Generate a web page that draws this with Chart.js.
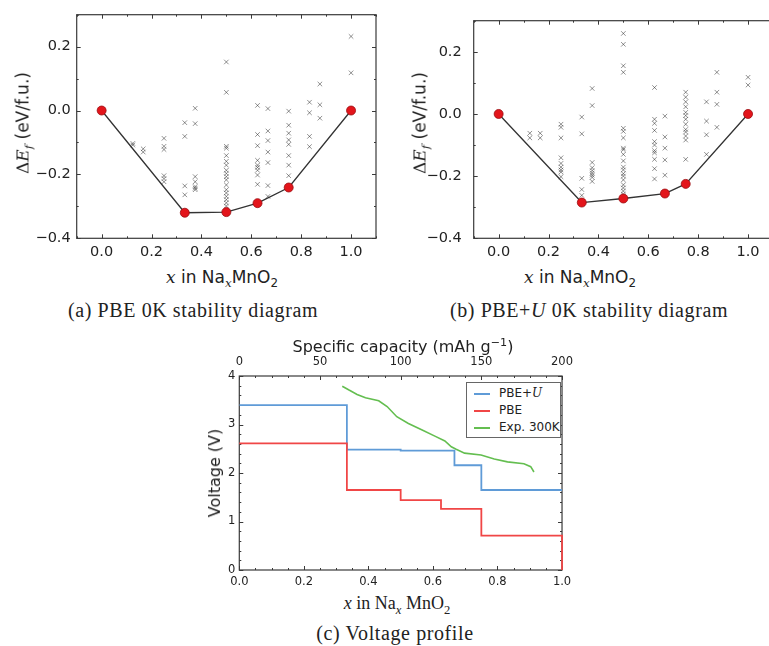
<!DOCTYPE html>
<html>
<head>
<meta charset="utf-8">
<script src="https://cdn.jsdelivr.net/npm/chart.js@4.4.1/dist/chart.umd.min.js"></script>
<style>
html, body { margin: 0; padding: 0; width: 769px; height: 646px; overflow: hidden; background: #fff; }
.box { position: absolute; }
.lbl { position: absolute; font-family: "DejaVu Sans", sans-serif; color: #222; white-space: nowrap; transform: translate(-50%, -50%); line-height: 1; }
.rot { transform: translate(-50%, -50%) rotate(-90deg); }
.m { font-family: "DejaVu Serif", serif; font-style: italic; }
.serif { font-family: "Liberation Serif", serif; }
sub, sup { font-size: 70%; line-height: 0; }
.cap { position: absolute; font-family: "Liberation Serif", serif; font-size: 20px; letter-spacing: 0.6px; color: #222; white-space: nowrap; transform: translate(-50%, -50%); }
.legend { position: absolute; left: 466px; top: 382px; width: 93px; height: 54px; border: 1px solid #666; background: #fff; font-family: "DejaVu Sans", sans-serif; font-size: 12px; color: #222; }
.legend div { position: absolute; left: 7px; white-space: nowrap; }
.legend i.ln { display: inline-block; width: 16px; height: 2px; vertical-align: middle; margin-right: 9px; }
</style>
</head>
<body>
<div class="box" style="left:0px;top:0px"><canvas id="pbe" width="390" height="262"></canvas></div>
<div class="box" style="left:396.6px;top:0px"><canvas id="pbeu" width="390" height="262"></canvas></div>
<div class="box" style="left:180px;top:340px"><canvas id="volt" width="400" height="250"></canvas></div>

<div class="lbl rot" style="left:23px;top:123px;font-size:17px"><span class="m" style="font-style:normal">&Delta;</span><span class="m">E<sub>f</sub></span> (eV/f.u.)</div>
<div class="lbl" style="left:222px;top:277px;font-size:17px"><span class="m">x</span> in Na<sub class="m">x</sub>MnO<sub>2</sub></div>
<div class="cap" style="left:193px;top:310px">(a) PBE 0K stability diagram</div>

<div class="lbl rot" style="left:420px;top:123px;font-size:17px"><span class="m" style="font-style:normal">&Delta;</span><span class="m">E<sub>f</sub></span> (eV/f.u.)</div>
<div class="lbl" style="left:580px;top:277px;font-size:17px"><span class="m">x</span> in Na<sub class="m">x</sub>MnO<sub>2</sub></div>
<div class="cap" style="left:589px;top:310px">(b) PBE+<i>U</i> 0K stability diagram</div>

<div class="lbl" style="left:403px;top:347px;font-size:16px">Specific capacity (mAh g<sup>&minus;1</sup>)</div>
<div class="lbl rot" style="left:215px;top:473px;font-size:16px">Voltage (V)</div>
<div class="lbl serif" style="left:397px;top:603px;font-size:18px"><i>x</i> in Na<sub><i>x</i></sub> MnO<sub>2</sub></div>
<div class="cap" style="left:395px;top:633px">(c) Voltage profile</div>

<div class="legend">
  <div style="top:3px"><i class="ln" style="background:rgb(95,155,215)"></i>PBE+<span class="m">U</span></div>
  <div style="top:20px"><i class="ln" style="background:rgb(240,70,70)"></i>PBE</div>
  <div style="top:37px"><i class="ln" style="background:rgb(100,190,80)"></i>Exp. 300K</div>
</div>

<script>
// compositions x in NaxMnO2 where candidate structures were computed
const candX = [0.125, 1/6, 0.25, 1/3, 0.375, 0.5, 0.625, 2/3, 0.75, 5/6, 0.875, 1.0];

// PBE formation energies (eV/f.u.), one list per composition above
const pbeCand = [
  [-0.103, -0.108],
  [-0.120, -0.130],
  [-0.087, -0.112, -0.122, -0.204, -0.213, -0.223],
  [-0.038, -0.081, -0.236, -0.264],
  [0.007, -0.041, -0.207, -0.223, -0.238, -0.243, -0.248],
  [0.152, 0.057, -0.112, -0.118, -0.141, -0.159, -0.171, -0.187, -0.197, -0.207, -0.217, -0.233, -0.248, -0.258, -0.269, -0.279, -0.289, -0.299],
  [0.016, -0.075, -0.110, -0.156, -0.171, -0.178, -0.187, -0.202, -0.231],
  [0.006, -0.064, -0.094, -0.130, -0.163, -0.235, -0.269],
  [-0.002, -0.046, -0.071, -0.092, -0.106, -0.141, -0.171, -0.204],
  [0.026, -0.007, -0.081, -0.113],
  [0.083, 0.018, -0.024],
  [0.232, 0.118]
];
const pbeHullX = [0, 1/3, 0.5, 0.625, 0.75, 1];
const pbeHull = [0, -0.320, -0.318, -0.290, -0.241, 0];

// PBE+U formation energies (eV/f.u.)
const pbeuCand = [
  [-0.062, -0.077],
  [-0.062, -0.077],
  [-0.033, -0.043, -0.077, -0.141, -0.159, -0.171, -0.180, -0.187, -0.202],
  [-0.010, -0.064, -0.207, -0.243, -0.262],
  [0.082, 0.027, -0.156, -0.173, -0.182, -0.190, -0.197, -0.204, -0.217],
  [0.259, 0.224, 0.155, 0.134, -0.046, -0.056, -0.077, -0.110, -0.115, -0.130, -0.151, -0.171, -0.180, -0.192, -0.200, -0.212, -0.228, -0.238, -0.248, -0.258],
  [0.085, -0.017, -0.030, -0.053, -0.089, -0.100, -0.118, -0.125, -0.146, -0.176, -0.209],
  [-0.007, -0.074, -0.110, -0.148, -0.197],
  [0.070, 0.054, 0.039, 0.023, 0.005, -0.005, -0.017, -0.033, -0.050, -0.058, -0.071, -0.084, -0.146],
  [0.039, -0.023, -0.067, -0.130],
  [0.134, 0.070, 0.031, -0.043],
  [0.118, 0.093]
];
const pbeuHullX = [0, 1/3, 0.5, 2/3, 0.75, 1];
const pbeuHull = [0, -0.285, -0.272, -0.256, -0.225, 0];

// voltage profile, each value holds until the next x
const pbeuVoltX = [0, 1/3, 0.5, 2/3, 0.75, 1];
const pbeuVolt = [3.40, 2.48, 2.46, 2.16, 1.65, 1.65];
const pbeVoltX = [0, 1/3, 0.5, 0.625, 0.75, 1, 1];
const pbeVolt = [2.61, 1.65, 1.44, 1.26, 0.71, 0.71, 0];
const expX = [0.319, 0.340, 0.365, 0.391, 0.432, 0.458, 0.488, 0.524, 0.565, 0.606, 0.637, 0.657, 0.672, 0.698, 0.749, 0.790, 0.831, 0.882, 0.903, 0.913];
const expV = [3.79, 3.71, 3.62, 3.55, 3.49, 3.37, 3.16, 3.02, 2.89, 2.76, 2.66, 2.54, 2.49, 2.41, 2.37, 2.29, 2.23, 2.19, 2.13, 2.02];

// tick labels
const stabXTicks = [0, 0.2, 0.4, 0.6, 0.8, 1.0];
const stabYTicks = [-0.4, -0.2, 0, 0.2];
const voltXTicks = [0, 0.2, 0.4, 0.6, 0.8, 1.0];
const voltYTicks = [0, 1, 2, 3, 4];
const capTicks = [0, 50, 100, 150, 200];

Chart.defaults.font.family = "'DejaVu Sans', sans-serif";
Chart.defaults.color = '#222';
Chart.defaults.animation = false;

const range = (a, b, d) => {
    const out = [];
    for (let v = a; v <= b + 1e-9; v += d) out.push(+v.toFixed(4));
    return out;
};
const fmt = (v) => v.toFixed(1).replace('-', '\u2212');

// box frame and inward ticks on all four sides
const frameTicks = {
    id: 'frameTicks',
    beforeDatasetsDraw(chart, args, o) {
        const {ctx, chartArea: a, scales} = chart;
        const top = scales[o.top || 'x'];
        ctx.save();
        ctx.strokeStyle = '#3a3a3a';
        ctx.lineWidth = 1;
        ctx.beginPath();
        const tx = (scale, vals, len, y0, dir) => vals.forEach(v => {
            const p = Math.round(scale.getPixelForValue(v)) + 0.5;
            ctx.moveTo(p, y0);
            ctx.lineTo(p, y0 + dir * len);
        });
        const ty = (vals, len) => vals.forEach(v => {
            const p = Math.round(scales.y.getPixelForValue(v)) + 0.5;
            ctx.moveTo(a.left, p);
            ctx.lineTo(a.left + len, p);
            ctx.moveTo(a.right, p);
            ctx.lineTo(a.right - len, p);
        });
        tx(scales.x, o.xMajor, 4, a.bottom, -1);
        tx(scales.x, o.xMinor, 2, a.bottom, -1);
        tx(top, o.topMajor || o.xMajor, 4, a.top, 1);
        tx(top, o.topMinor || o.xMinor, 2, a.top, 1);
        ty(o.yMajor, 4);
        ty(o.yMinor, 2);
        ctx.stroke();
        ctx.lineWidth = 1.2;
        ctx.strokeRect(a.left, a.top, a.width, a.height);
        ctx.restore();
    }
};

const makeStability = (id, cand, hullX, hull, yPad) => {
    const pts = [];
    candX.forEach((x, i) => cand[i].forEach(y => pts.push({x: x, y: y})));
    return new Chart(document.getElementById(id), {
        type: 'scatter',
        data: {
            datasets: [{
                data: hullX.map((x, i) => ({x: x, y: hull[i]})),
                showLine: true,
                borderColor: '#333',
                borderWidth: 1.3,
                pointRadius: 4.5,
                pointBackgroundColor: '#e3151b',
                pointBorderColor: '#9a0d10',
                pointBorderWidth: 0.8
            }, {
                data: pts,
                pointStyle: 'crossRot',
                pointRadius: 3.2,
                borderColor: 'rgba(30,30,30,0.55)',
                pointBorderWidth: 0.9
            }]
        },
        options: {
            responsive: false,
            layout: {padding: {top: 10.8, right: 14, left: 0, bottom: 0}},
            plugins: {
                legend: {display: false},
                tooltip: {enabled: false},
                frameTicks: {
                    xMajor: stabXTicks, xMinor: range(-0.1, 1.1, 0.1),
                    yMajor: stabYTicks, yMinor: range(-0.3, 0.3, 0.2)
                }
            },
            scales: {
                x: {
                    type: 'linear', min: -0.1, max: 1.1,
                    grid: {display: false, drawTicks: false}, border: {display: false},
                    ticks: {padding: 5, font: {size: 14.5}, maxRotation: 0, autoSkip: false, callback: (v) => v.toFixed(1)},
                    afterBuildTicks: (s) => { s.ticks = stabXTicks.map(v => ({value: v})); },
                    afterFit: (s) => { s.height = 23.7; }
                },
                y: {
                    min: -0.4, max: 0.3,
                    grid: {display: false, drawTicks: false}, border: {display: false},
                    ticks: {padding: yPad, font: {size: 14.5}, autoSkip: false, callback: fmt},
                    afterBuildTicks: (s) => { s.ticks = stabYTicks.map(v => ({value: v})); },
                    afterFit: (s) => { s.width = 76.7; }
                }
            }
        },
        plugins: [frameTicks]
    });
};

makeStability('pbe', pbeCand, pbeHullX, pbeHull, 6);
makeStability('pbeu', pbeuCand, pbeuHullX, pbeuHull, 12);

const toPts = (xs, ys) => xs.map((x, i) => ({x: x, y: ys[i]}));

new Chart(document.getElementById('volt'), {
    type: 'scatter',
    data: {
        datasets: [{
            label: 'PBE',
            data: toPts(pbeVoltX, pbeVolt),
            showLine: true, stepped: 'before', pointRadius: 0, clip: 3,
            borderColor: 'rgb(240,70,70)', borderWidth: 1.8
        }, {
            label: 'PBE+U',
            data: toPts(pbeuVoltX, pbeuVolt),
            showLine: true, stepped: 'before', pointRadius: 0,
            borderColor: 'rgb(95,155,215)', borderWidth: 1.8
        }, {
            label: 'Exp. 300K',
            data: toPts(expX, expV),
            showLine: true, pointRadius: 0, tension: 0,
            borderColor: 'rgb(100,190,80)', borderWidth: 1.6
        }]
    },
    options: {
        responsive: false,
        layout: {padding: {top: 0, right: 14.3, left: 0, bottom: 0}},
        plugins: {
            legend: {display: false},
            tooltip: {enabled: false},
            frameTicks: {
                top: 'x2',
                xMajor: voltXTicks, xMinor: range(0, 1, 0.05),
                topMajor: capTicks, topMinor: range(0, 200, 10),
                yMajor: voltYTicks, yMinor: range(0, 4, 0.2)
            }
        },
        scales: {
            x: {
                type: 'linear', min: 0, max: 1,
                grid: {display: false, drawTicks: false}, border: {display: false},
                ticks: {padding: 5, font: {size: 11.5}, maxRotation: 0, autoSkip: false, callback: (v) => v.toFixed(1)},
                afterBuildTicks: (s) => { s.ticks = voltXTicks.map(v => ({value: v})); },
                afterFit: (s) => { s.height = 20; }
            },
            x2: {
                type: 'linear', position: 'top', min: 0, max: 200,
                grid: {display: false, drawTicks: false}, border: {display: false},
                ticks: {padding: 7, font: {size: 11.5}, maxRotation: 0, autoSkip: false},
                afterBuildTicks: (s) => { s.ticks = capTicks.map(v => ({value: v})); },
                afterFit: (s) => { s.height = 36; }
            },
            y: {
                min: 0, max: 4,
                grid: {display: false, drawTicks: false}, border: {display: false},
                ticks: {padding: 4, font: {size: 11.5}, autoSkip: false},
                afterBuildTicks: (s) => { s.ticks = voltYTicks.map(v => ({value: v})); },
                afterFit: (s) => { s.width = 59.3; }
            }
        }
    },
    plugins: [frameTicks]
});
</script>
</body>
</html>
